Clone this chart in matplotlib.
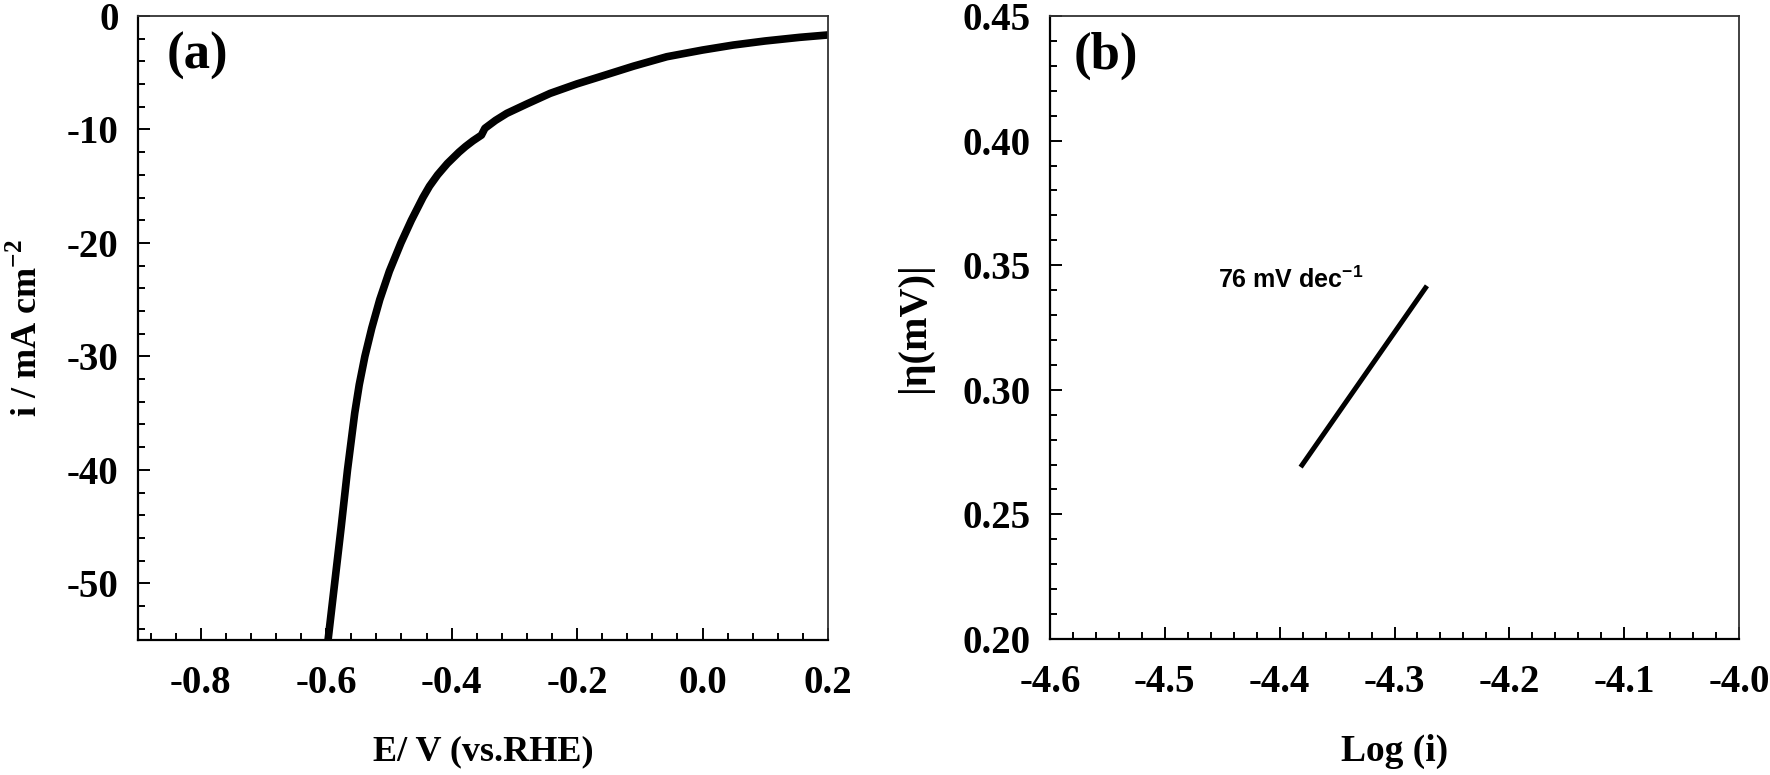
import matplotlib
matplotlib.use("Agg")
import matplotlib.pyplot as plt
from matplotlib.ticker import MultipleLocator, FormatStrFormatter

# Panel (a): polarisation curve
potencial = [-0.597, -0.5865, -0.576, -0.566, -0.5545, -0.5473, -0.5383,
             -0.5273, -0.5146, -0.4993, -0.4808, -0.4642, -0.4458, -0.4353,
             -0.4223, -0.4068, -0.3883, -0.3778, -0.366, -0.3525, -0.347,
             -0.33, -0.312, -0.28, -0.243, -0.2, -0.1635, -0.11, -0.057,
             0.0, 0.049, 0.10, 0.155, 0.2]
corriente = [-55.0, -50.0, -45.0, -40.0, -35.0, -32.5, -30.0,
             -27.5, -25.0, -22.5, -20.0, -18.0, -16.0, -15.0,
             -14.0, -13.0, -12.0, -11.5, -11.0, -10.5, -9.9,
             -9.2, -8.58, -7.75, -6.82, -5.98, -5.35, -4.42, -3.59,
             -3.0, -2.56, -2.2, -1.88, -1.67]

# Panel (b): Tafel line
log_i = [-4.3805, -4.273]
eta = [0.2698, 0.3409]
pendiente = "76 mV dec"

plt.rcParams['font.family'] = ['Liberation Serif', 'DejaVu Serif']
plt.rcParams['font.weight'] = 'bold'
plt.rcParams['axes.unicode_minus'] = False
plt.rcParams['mathtext.fontset'] = 'custom'
plt.rcParams['mathtext.rm'] = 'Liberation Serif:bold'
plt.rcParams['mathtext.bf'] = 'Liberation Serif:bold'
plt.rcParams['mathtext.sf'] = 'Liberation Sans:bold'

fig = plt.figure(figsize=(17.7, 7.75), dpi=100)
ax1 = fig.add_axes([138/1770, 135/775, 690/1770, 624/775])
ax2 = fig.add_axes([1050/1770, 136/775, 689/1770, 623/775])


def estilo(ax):
	for lado in ['left', 'bottom']:
		ax.spines[lado].set_linewidth(1.6)
	for lado in ['top', 'right']:
		ax.spines[lado].set_linewidth(1.3)
		ax.spines[lado].set_color('#333333')
	ax.tick_params(which='both', direction='in', top=False, right=False,
				   labelsize=28, width=1.4)
	ax.tick_params(which='major', length=8.5, pad=14)
	ax.tick_params(which='minor', length=5)
	ax.tick_params(axis='x', which='major', pad=18)
	for t in ax.get_xticklabels() + ax.get_yticklabels():
		t.set_fontweight('bold')


# Gráfico (a)
ax1.plot(potencial, corriente, color='black', lw=5.5, solid_capstyle='round',
		 solid_joinstyle='round')
ax1.set_xlim(-0.9, 0.2)
ax1.set_ylim(-55, 0)
ax1.xaxis.set_major_locator(MultipleLocator(0.2))
ax1.xaxis.set_minor_locator(MultipleLocator(0.04))
ax1.yaxis.set_major_locator(MultipleLocator(10))
ax1.yaxis.set_minor_locator(MultipleLocator(2))
ax1.xaxis.set_major_formatter(FormatStrFormatter('%.1f'))
ax1.yaxis.set_major_formatter(FormatStrFormatter('%d'))
estilo(ax1)
ax1.set_xlabel("E/ V (vs.RHE)", fontsize=26, fontweight='bold')
ax1.set_ylabel(r"i / mA cm$^{\mathbf{-2}}$", fontsize=26, fontweight='bold')
ax1.xaxis.set_label_coords(0.5, -0.152)
ax1.yaxis.set_label_coords(-0.135, 0.5)
ax1.text(0.042, 0.975, "(a)", transform=ax1.transAxes, fontsize=38,
		 fontweight='bold', ha='left', va='top')

# Gráfico (b)
ax2.plot(log_i, eta, color='black', lw=3.6)
ax2.set_xlim(-4.6, -4.0)
ax2.set_ylim(0.20, 0.45)
ax2.xaxis.set_major_locator(MultipleLocator(0.1))
ax2.xaxis.set_minor_locator(MultipleLocator(0.02))
ax2.yaxis.set_major_locator(MultipleLocator(0.05))
ax2.yaxis.set_minor_locator(MultipleLocator(0.01))
ax2.xaxis.set_major_formatter(FormatStrFormatter('%.1f'))
ax2.yaxis.set_major_formatter(FormatStrFormatter('%.2f'))
estilo(ax2)
ax2.set_xlabel("Log (i)", fontsize=27, fontweight='bold')
ax2.set_ylabel("|\u03b7(mV)|", fontsize=29, fontweight='bold')
ax2.xaxis.set_label_coords(0.5, -0.152)
ax2.yaxis.set_label_coords(-0.17, 0.5)
ax2.text(0.034, 0.975, "(b)", transform=ax2.transAxes, fontsize=38,
		 fontweight='bold', ha='left', va='top')
ax2.text(-4.4537, 0.3409, pendiente + r"$^{\mathsf{-1}}$", fontsize=18,
		 fontweight='bold', family='Liberation Sans', ha='left', va='baseline')

fig.savefig("out.png", dpi=100)
